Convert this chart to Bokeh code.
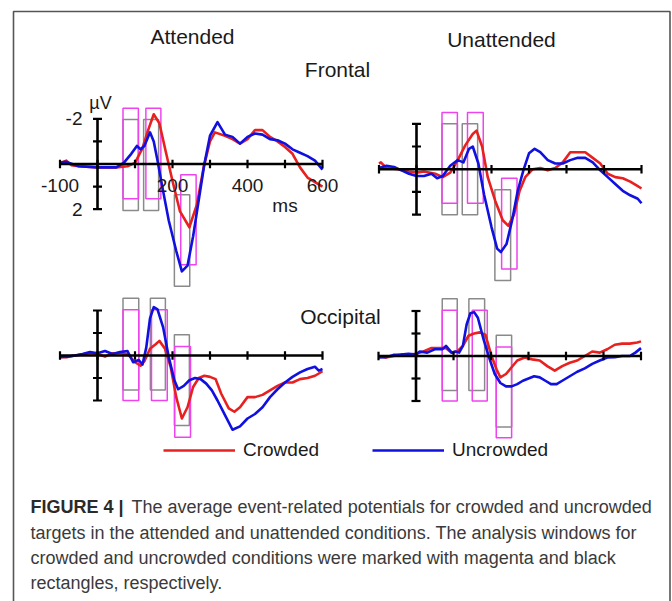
from bokeh.plotting import figure
from bokeh.models import Range1d, Legend, LegendItem
from bokeh.core.properties import value
from bokeh.embed import file_html
from bokeh.resources import INLINE

# ---------------- data ----------------
x_ticks = [-100, 0, 100, 200, 300, 400, 500, 600]
y_ticks = [-2, -1, 0, 1, 2]
x_tick_labels = {-100: "-100", 200: "200", 400: "400", 600: "600"}
y_tick_labels = {-2: "-2", 2: "2"}

column_titles = ["Attended", "Unattended"]
row_titles = ["Frontal", "Occipital"]
series_names = ["Crowded", "Uncrowded"]

# Frontal / Attended
tl_red_t = [-100, -83, -70, -50, 0, 50, 80, 100, 120, 135, 150, 165, 180, 200, 220, 245, 265, 283, 300, 313, 340, 360, 380, 400, 420, 440, 460, 480, 500, 520, 540, 560, 580, 600]
tl_red_v = [-0.05, -0.15, 0.05, 0.1, 0.15, 0.15, 0.1, -0.05, -0.7, -1.5, -2.2, -1.8, -0.7, 0.75, 2.1, 2.8, 1.8, 0.15, -1.0, -1.4, -1.25, -1.1, -0.9, -1.1, -1.5, -1.5, -1.2, -1.0, -0.75, -0.45, 0.15, 0.6, 0.8, 1.0]
tl_blue_t = [-100, -85, -50, 0, 50, 70, 90, 105, 115, 125, 140, 150, 160, 175, 190, 210, 225, 240, 255, 270, 285, 300, 320, 340, 360, 380, 400, 420, 440, 460, 480, 500, 520, 540, 560, 580, 600]
tl_blue_v = [-0.05, -0.1, 0.1, 0.15, 0.15, -0.05, -0.45, -0.8, -0.65, -0.8, -1.4, -1.0, -0.15, 1.2, 2.5, 3.85, 4.75, 4.5, 3.2, 1.6, 0.0, -1.25, -1.85, -1.3, -1.2, -0.9, -1.2, -1.35, -1.3, -1.1, -1.05, -0.9, -0.65, -0.5, -0.35, -0.15, 0.25]

# Frontal / Unattended
tr_red_t = [-100, -95, -80, -50, -20, 0, 20, 50, 70, 90, 110, 130, 150, 160, 175, 190, 210, 230, 245, 260, 275, 290, 310, 330, 350, 370, 390, 410, 430, 450, 470, 490, 510, 530, 550, 570, 590, 600]
tr_red_v = [-0.25, -0.3, -0.05, 0.0, 0.1, 0.15, 0.1, 0.2, 0.35, 0.15, -0.4, -1.05, -1.55, -1.7, -1.0, 0.35, 1.4, 2.25, 2.5, 2.0, 0.95, 0.35, 0.0, -0.05, 0.05, -0.05, -0.3, -0.75, -0.75, -0.75, -0.5, -0.25, 0.2, 0.35, 0.4, 0.55, 0.75, 0.85]
tr_blue_t = [-100, -80, -60, -40, -20, 0, 20, 40, 55, 70, 90, 110, 125, 140, 150, 165, 180, 200, 215, 225, 240, 255, 270, 285, 300, 315, 330, 350, 370, 390, 410, 430, 450, 470, 490, 510, 530, 550, 570, 590, 600]
tr_blue_v = [-0.05, -0.15, -0.1, 0.05, 0.2, 0.3, 0.3, 0.2, 0.4, 0.3, -0.15, -0.4, -0.3, -0.9, -1.0, -0.25, 1.1, 2.55, 3.5, 3.65, 3.3, 2.25, 0.95, 0.05, -0.7, -0.9, -0.75, -0.4, -0.25, -0.25, -0.4, -0.5, -0.5, -0.3, 0.05, 0.35, 0.65, 0.95, 1.15, 1.3, 1.5]

# Occipital / Attended
bl_red_t = [-100, -80, -60, -40, -20, 0, 20, 40, 60, 80, 100, 115, 125, 140, 155, 165, 180, 195, 210, 225, 240, 255, 270, 285, 300, 315, 330, 350, 365, 380, 400, 420, 440, 460, 480, 500, 520, 540, 560, 580, 600]
bl_red_v = [0.07, 0.07, 0.0, -0.05, -0.1, -0.07, 0.05, -0.1, -0.1, -0.07, 0.3, 0.45, 0.25, -0.3, -0.5, -0.65, -0.3, 0.5, 1.85, 2.8, 2.3, 1.4, 1.0, 0.9, 0.95, 1.05, 1.7, 2.35, 2.5, 2.3, 1.85, 1.85, 1.75, 1.55, 1.35, 1.2, 1.2, 1.05, 1.0, 0.9, 0.7]
bl_blue_t = [-100, -80, -60, -40, -20, 0, 20, 40, 60, 80, 95, 110, 120, 130, 140, 150, 160, 175, 190, 205, 215, 230, 245, 260, 275, 290, 305, 320, 340, 360, 380, 400, 420, 440, 460, 480, 500, 520, 540, 560, 580, 590, 600]
bl_blue_v = [0.07, 0.05, 0.0, -0.07, -0.15, -0.1, -0.2, -0.07, -0.15, -0.2, 0.3, 0.2, 0.4, -0.35, -1.65, -2.15, -2.05, -1.25, 0.07, 1.1, 1.5, 1.35, 1.1, 1.0, 1.05, 1.25, 1.55, 2.0, 2.65, 3.3, 3.15, 2.8, 2.6, 2.3, 1.85, 1.5, 1.2, 0.95, 0.75, 0.6, 0.5, 0.67, 0.6]

# Occipital / Unattended
br_red_t = [-100, -80, -60, -40, -20, 0, 20, 40, 60, 80, 95, 110, 125, 140, 155, 170, 185, 200, 215, 225, 240, 255, 270, 290, 310, 330, 350, 370, 390, 410, 430, 450, 470, 490, 510, 530, 550, 570, 590, 600]
br_red_v = [0.0, 0.07, 0.0, -0.07, -0.05, -0.1, -0.2, -0.35, -0.35, -0.35, -0.15, -0.2, -0.45, -0.9, -1.0, -1.05, -0.95, -0.07, 0.6, 0.95, 0.8, 0.5, 0.2, 0.07, 0.15, 0.2, 0.45, 0.65, 0.45, 0.3, 0.2, 0.0, -0.2, -0.15, -0.3, -0.5, -0.55, -0.55, -0.6, -0.65]
br_blue_t = [-100, -80, -60, -40, -20, 0, 10, 30, 50, 70, 80, 95, 105, 115, 125, 135, 145, 155, 165, 180, 195, 210, 225, 240, 255, 270, 285, 300, 315, 330, 345, 360, 375, 390, 410, 430, 450, 470, 490, 510, 530, 550, 570, 585, 600]
br_blue_v = [0.07, 0.05, -0.05, -0.07, -0.1, -0.07, -0.2, -0.15, -0.3, -0.3, -0.45, -0.15, -0.2, -0.15, -0.45, -1.4, -1.9, -1.95, -1.7, -0.75, 0.07, 0.8, 1.2, 1.35, 1.35, 1.25, 1.1, 1.0, 0.9, 0.95, 1.1, 1.25, 1.25, 1.1, 0.9, 0.7, 0.55, 0.35, 0.2, 0.07, 0.05, 0.0, 0.0, -0.15, -0.35]

# analysis windows (ms) and extents (uV) -- gray = uncrowded, magenta = crowded
tl_gray_l = [68, 123, 205];  tl_gray_r = [109, 163, 246];  tl_gray_top = [-1.97, -1.97, 1.36];  tl_gray_bot = [2.06, 2.06, 5.41]
tl_mag_l = [68, 129, 222];   tl_mag_r = [109, 169, 263];   tl_mag_top = [-2.47, -2.47, 0.48];   tl_mag_bot = [1.54, 1.54, 4.46]
tr_gray_l = [68, 122, 209];  tr_gray_r = [109, 163, 251];  tr_gray_top = [-2.0, -2.0, 0.91];    tr_gray_bot = [2.01, 2.01, 4.9]
tr_mag_l = [68, 136, 227];   tr_mag_r = [109, 178, 268];   tr_mag_top = [-2.5, -2.5, 0.4];      tr_mag_bot = [1.5, 1.5, 4.4]
bl_gray_l = [68, 141, 205];  bl_gray_r = [110, 181, 245];  bl_gray_top = [-2.55, -2.55, -0.92]; bl_gray_bot = [1.53, 1.53, 3.11]
bl_mag_l = [68, 144, 206];   bl_mag_r = [110, 186, 248];   bl_mag_top = [-2.03, -2.03, -0.4];   bl_mag_bot = [2.0, 2.0, 3.63]
br_gray_l = [70, 141, 214];  br_gray_r = [110, 183, 255];  br_gray_top = [-2.55, -2.55, -0.92]; br_gray_bot = [1.53, 1.53, 3.16]
br_mag_l = [70, 150, 214];   br_mag_r = [110, 190, 255];   br_mag_top = [-2.03, -2.03, -0.4];   br_mag_bot = [2.0, 2.0, 3.63]

caption_bold = "FIGURE 4 |"
caption_lines = [
    "The average event-related potentials for crowded and uncrowded",
    "targets in the attended and unattended conditions. The analysis windows for",
    "crowded and uncrowded conditions were marked with magenta and black",
    "rectangles, respectively.",
]

# ---------------- layout / style ----------------
W, H = 672, 601
RED = "#e8201f"
BLUE = "#1010e0"
MAG = "#ee44ee"
GRAY = "#8a8a8a"
FONT = "Liberation Sans"

p = figure(width=W, height=H, output_backend="svg", toolbar_location=None,
           x_range=Range1d(0, W), y_range=Range1d(H, 0),
           x_axis_type=None, y_axis_type=None, min_border=0)
p.grid.visible = False
p.outline_line_color = None
p.background_fill_color = "white"

# panel geometry: pixel position of (0 ms, 0 uV), px per ms, px per uV
S = 0.375
geo = {
    "tl": (97.0, 163.5, S, 22.6),
    "tr": (416.0, 168.7, S, 22.7),
    "bl": (97.0, 355.0, S, 22.5),
    "br": (415.5, 355.5, S, 22.5),
}
xr, yr = {}, {}
for k, (X0, Y0, s, g) in geo.items():
    xr[k] = Range1d(start=-X0 / s, end=(W - X0) / s)
    yr[k] = Range1d(start=(H - Y0) / g, end=-Y0 / g)
p.extra_x_ranges = xr
p.extra_y_ranges = yr

panels = {
    "tl": (tl_red_t, tl_red_v, tl_blue_t, tl_blue_v, (tl_gray_l, tl_gray_r, tl_gray_top, tl_gray_bot), (tl_mag_l, tl_mag_r, tl_mag_top, tl_mag_bot)),
    "tr": (tr_red_t, tr_red_v, tr_blue_t, tr_blue_v, (tr_gray_l, tr_gray_r, tr_gray_top, tr_gray_bot), (tr_mag_l, tr_mag_r, tr_mag_top, tr_mag_bot)),
    "bl": (bl_red_t, bl_red_v, bl_blue_t, bl_blue_v, (bl_gray_l, bl_gray_r, bl_gray_top, bl_gray_bot), (bl_mag_l, bl_mag_r, bl_mag_top, bl_mag_bot)),
    "br": (br_red_t, br_red_v, br_blue_t, br_blue_v, (br_gray_l, br_gray_r, br_gray_top, br_gray_bot), (br_mag_l, br_mag_r, br_mag_top, br_mag_bot)),
}

legend_renderers = None
for k, (rt, rv, bt, bv, grect, mrect) in panels.items():
    kw = dict(x_range_name=k, y_range_name=k)
    p.quad(left=grect[0], right=grect[1], top=grect[2], bottom=grect[3],
           fill_alpha=0, line_color=GRAY, line_width=1.5, **kw)
    p.quad(left=mrect[0], right=mrect[1], top=mrect[2], bottom=mrect[3],
           fill_alpha=0, line_color=MAG, line_width=1.5, **kw)
    r_red = p.line(rt, rv, line_color=RED, line_width=2.6, line_join="round", **kw)
    r_blue = p.line(bt, bv, line_color=BLUE, line_width=2.6, line_join="round", **kw)
    if legend_renderers is None:
        legend_renderers = (r_red, r_blue)
    # axes drawn as a cross
    p.segment(x0=[x_ticks[0]], y0=[0], x1=[x_ticks[-1]], y1=[0], line_color="black", line_width=2.6, **kw)
    p.segment(x0=[0], y0=[y_ticks[0]], x1=[0], y1=[y_ticks[-1]], line_color="black", line_width=2.6, **kw)
    p.segment(x0=x_ticks, y0=[-0.19] * len(x_ticks), x1=x_ticks, y1=[0.19] * len(x_ticks),
              line_color="black", line_width=2.2, **kw)
    yt = [v for v in y_ticks if v != 0]
    p.segment(x0=[-12] * len(yt), y0=yt, x1=[12] * len(yt), y1=yt,
              line_color="black", line_width=2.2, **kw)

# tick labels (top-left panel only)
kw = dict(x_range_name="tl", y_range_name="tl")
xl = list(x_tick_labels.keys())
p.text(x=xl, y=[0] * len(xl), text=[x_tick_labels[v] for v in xl], text_align="center",
       text_baseline="middle", y_offset=21, text_font=value(FONT), text_font_size="19px",
       text_color="#1a1a1a", **kw)
yl = list(y_tick_labels.keys())
p.text(x=[0] * len(yl), y=yl, text=[y_tick_labels[v] for v in yl], text_align="right",
       text_baseline="middle", x_offset=-15, text_font=value(FONT), text_font_size="19px",
       text_color="#1a1a1a", **kw)
p.text(x=[0], y=[y_ticks[0]], text=["µV"], text_align="center", text_baseline="middle",
       x_offset=3, y_offset=-16, text_font=value(FONT), text_font_size="18px", text_color="#1a1a1a", **kw)
p.text(x=[500], y=[y_ticks[-1]], text=["ms"], text_align="center", text_baseline="middle",
       y_offset=-4, text_font=value(FONT), text_font_size="19px", text_color="#1a1a1a", **kw)

# titles
p.text(x=[192, 501], y=[36, 39], text=column_titles, text_align="center", text_baseline="middle",
       text_font=value(FONT), text_font_size="21px", text_color="#1a1a1a")
p.text(x=[337, 340], y=[69, 316], text=row_titles, text_align="center", text_baseline="middle",
       text_font=value(FONT), text_font_size="21px", text_color="#1a1a1a")

# legend
legend = Legend(items=[LegendItem(label=series_names[0], renderers=[legend_renderers[0]]),
                       LegendItem(label=series_names[1], renderers=[legend_renderers[1]])],
                orientation="horizontal", location=(163, 140), glyph_width=72, glyph_height=20,
                label_height=20, label_standoff=8, spacing=53, padding=0, margin=0,
                border_line_color=None, background_fill_alpha=0,
                label_text_font=FONT, label_text_font_size="19px", label_text_color="#1a1a1a")
p.add_layout(legend)

# frame around the figure
p.line(x=[13, 13, 669.5, 669.5], y=[H + 10, 11, 11, H + 10], line_color="#555555", line_width=1.6)

# caption
p.text(x=[30], y=[506], text=[caption_bold], text_baseline="middle", text_font=value(FONT),
       text_font_style="bold", text_font_size="18px", text_color="#2a2a2a")
p.text(x=[131, 30, 30, 30], y=[506, 532, 557, 582], text=caption_lines, text_baseline="middle",
       text_font=value(FONT), text_font_size="18px", text_color="#3a3a3a")

open("out.html", "w").write(file_html(p, INLINE))
